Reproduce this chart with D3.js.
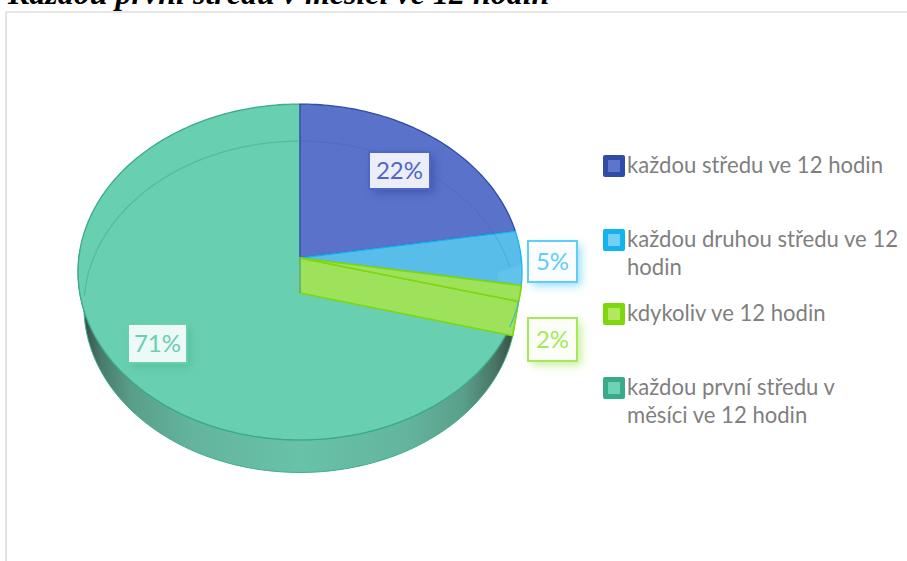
<!DOCTYPE html>
<html><head><meta charset="utf-8">
<script src="https://cdn.jsdelivr.net/npm/d3@7/dist/d3.min.js"></script>
<style>html,body{margin:0;padding:0;background:#fff;overflow:hidden}svg{display:block}</style>
</head><body><svg id="c" width="907" height="561"></svg>
<script>
const title = "Každou první středu v měsíci ve 12 hodin";
const categories = ["každou středu ve 12 hodin","každou druhou středu ve 12 hodin","kdykoliv ve 12 hodin","každou první středu v měsíci ve 12 hodin"];
const values = [22.4, 5.2, 1.5, 70.9];
const legendLines = [["každou středu ve 12 hodin"],["každou druhou středu ve 12","hodin"],["kdykoliv ve 12 hodin"],["každou první středu v","měsíci ve 12 hodin"]];
const faceColors = ["#5b72cb","#58bde9","#9ee25c","#68cfb0"];
const edgeColors = ["#2f4da6","#12b4ee","#7ed60c","#37ab8a"];
const swatchInner = ["#5f74cb","#74cff3","#b2e860","#6dd3b2"];
const labelTextColors = ["#4f66c6","#62cdf5","#a5e85c","#68cfb0"];
const labelBorders = ["#4f66c6","#62cdf5","#a5e85c","#68cfb0"];
const labelGlow = ["#3348a0","#62cdf5","#a5e85c","#4fb597"];
const labelWhite = [0.88,0.97,0.95,0.88];
const legendTop = [155,229,303,377];
const labelBoxes = [[369,152,61,37],[528,241,49,41],[528,318,49,43],[128,324,59,39]];
const faceOrder = [3,0,1,2];

const svg = d3.select("#c");
const defs = svg.append("defs");
const wallGrad = defs.append("linearGradient").attr("id","wall").attr("gradientUnits","userSpaceOnUse")
  .attr("x1",84).attr("x2",516).attr("y1",0).attr("y2",0);
[[0,"#3a4f47"],[0.04,"#4a7a6b"],[0.11,"#5a9e8a"],[0.25,"#63b59d"],[0.5,"#68c2a8"],[0.75,"#63b59d"],[0.88,"#5a9e8a"],[0.95,"#4a7565"],[1,"#36483f"]]
  .forEach(s=>wallGrad.append("stop").attr("offset",s[0]).attr("stop-color",s[1]));
labelGlow.forEach((c,i)=>{
  const f = defs.append("filter").attr("id","glow"+i).attr("x","-30%").attr("y","-30%").attr("width","170%").attr("height","170%");
  f.append("feDropShadow").attr("dx",4).attr("dy",4).attr("stdDeviation",4).attr("flood-color",c).attr("flood-opacity",0.65);
});

// Frame
svg.append("path").attr("d","M6,561V12H907").attr("fill","none").attr("stroke","#dedede").attr("stroke-width",1.6);
// Title (cropped by page top, as in the reference)
svg.append("text").attr("x",8).attr("y",4).text(title)
  .attr("font-family","'Liberation Serif'").attr("font-weight","bold").attr("font-style","italic")
  .attr("font-size",32).attr("fill","#000");

// Perspective projection of the pie disc
const persp = 1/12;
function projector(cx, cy, k, a){
  return t => { const u=Math.sin(t), v=Math.cos(t), d=1+persp*v;
    return [cx+k*u/d, cy-a*v/d]; };
}
const topP = projector(300,258,221.2,166.8);
const botP = projector(300,293,215.3,164.5);
const arcPts = (P,a,b)=>{ const n=Math.max(2,Math.ceil(Math.abs(b-a)/0.02));
  return d3.range(n+1).map(i=>P(a+(b-a)*i/n)); };
const line = d3.line();
const pie = d3.pie().sort(null).value(d=>d);
const arcs = pie(values);
const apexTop = [300,258], apexBot = [300,293];

// Side wall
const wallA = arcs[2].endAngle, wallB = 1.5*Math.PI+0.05;
svg.append("path").attr("fill","url(#wall)").attr("stroke","#3cae8d").attr("stroke-width",1)
  .attr("d", line(arcPts(topP,wallA,wallB).concat(arcPts(botP,wallB,wallA)))+"Z");

// Top faces
faceOrder.forEach(i=>{
  const a = arcs[i];
  svg.append("path").attr("fill",faceColors[i]).attr("stroke",edgeColors[i]).attr("stroke-width",1.3).attr("stroke-linejoin","round")
    .attr("d", line([apexTop].concat(arcPts(topP,a.startAngle,a.endAngle)))+"Z");
});
// Back rim of the base, seen through the disc
svg.append("path").attr("fill","none").attr("stroke","#37ab8a").attr("stroke-opacity",0.5).attr("stroke-width",1.2)
  .attr("d", line(arcPts(botP,1.5*Math.PI-0.02,2*Math.PI)));
svg.append("path").attr("fill","none").attr("stroke","#2f4da6").attr("stroke-opacity",0.22).attr("stroke-width",1)
  .attr("d", line(arcPts(botP,0,arcs[0].endAngle)));
// Lighter wedge of the base in the light blue slice
const b = arcs[1];
svg.append("path").attr("fill","#7dd3f5").attr("fill-opacity",0.25)
  .attr("d", line([[498,281],[498,272]].concat(arcPts(topP,b.startAngle+0.2,b.endAngle)))+"Z");

// Wall of the green slice, seen through the front
const g = arcs[2];
svg.append("path").attr("fill",faceColors[2]).attr("stroke",edgeColors[2]).attr("stroke-width",1.6).attr("stroke-linejoin","round")
  .attr("d", line([apexTop,topP(g.endAngle),botP(g.endAngle),apexBot])+"Z");
svg.append("path").attr("fill",faceColors[2]).attr("stroke",edgeColors[2]).attr("stroke-width",1.6)
  .attr("d", line([apexTop].concat(arcPts(topP,g.startAngle,g.endAngle)))+"Z");
// Front rim of the top face running over the green wall
svg.append("path").attr("fill","none").attr("stroke","#3cb7c4").attr("stroke-width",1.1)
  .attr("d", line(arcPts(topP,g.endAngle,g.endAngle+0.155)));
// Centre axis
svg.append("line").attr("x1",300).attr("x2",300).attr("y1",258).attr("y2",293).attr("stroke","#5aa58f").attr("stroke-width",1.2);

// Data labels
arcs.forEach((a,i)=>{
  const [x,y,w,h]=labelBoxes[i];
  const gr = svg.append("g");
  gr.append("rect").attr("x",x).attr("y",y).attr("width",w).attr("height",h)
    .attr("fill",faceColors[i]).attr("filter",`url(#glow${i})`);
  gr.append("rect").attr("x",x).attr("y",y).attr("width",w).attr("height",h)
    .attr("fill","#fff").attr("fill-opacity",labelWhite[i]);
  gr.append("rect").attr("x",x).attr("y",y).attr("width",w).attr("height",h)
    .attr("fill","none").attr("stroke",labelBorders[i]).attr("stroke-width",2);
  gr.append("text").attr("x",x+w/2).attr("y",y+h/2+8.5).attr("text-anchor","middle")
    .attr("font-family","Lato").attr("font-size",24).attr("fill",labelTextColors[i])
    .text(Math.round(a.data)+"%");
});

// Legend
categories.forEach((c,i)=>{
  const y=legendTop[i];
  svg.append("rect").attr("x",603).attr("y",y).attr("width",22).attr("height",22).attr("rx",2).attr("fill",edgeColors[i]);
  svg.append("rect").attr("x",608).attr("y",y+5).attr("width",12).attr("height",12).attr("fill",swatchInner[i]);
  legendLines[i].forEach((t,j)=>{
    svg.append("text").attr("x",627).attr("y",y+18+j*28).text(t)
      .attr("font-family","Lato").attr("font-size",22.1).attr("fill","#7f7f7f");
  });
});
</script></body></html>
